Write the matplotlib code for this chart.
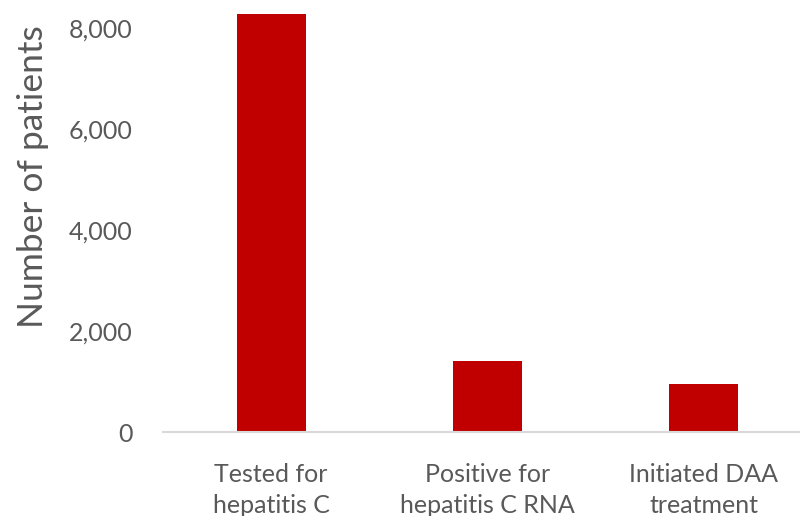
import matplotlib.pyplot as plt
from matplotlib.ticker import FuncFormatter

categories = ["Tested for\nhepatitis C", "Positive for\nhepatitis C RNA", "Initiated DAA\ntreatment"]
patients = [8270, 1410, 945]
yticks = [0, 2000, 4000, 6000, 8000]

plt.rcParams["font.family"] = ["Lato", "DejaVu Sans"]
text_color = "#595959"

fig = plt.figure(figsize=(8, 5.16), dpi=100)
# axes runs a bit past the right edge and the top, as in the cropped original
ax = fig.add_axes([163 / 800, 84 / 516, 649 / 800, 454.5 / 516])

ax.bar(range(len(categories)), patients, width=0.32, color="#C00000")

ax.set_xlim(-0.5, 2.5)
ax.set_ylim(0, 9000)
ax.set_yticks(yticks)
ax.yaxis.set_major_formatter(FuncFormatter(lambda v, p: f"{int(v):,}"))
ax.set_xticks(range(len(categories)))
ax.set_xticklabels(categories, linespacing=1.45)

for s in ["top", "right", "left"]:
    ax.spines[s].set_visible(False)
ax.spines["bottom"].set_color("#D9D9D9")
ax.spines["bottom"].set_linewidth(1.5)

ax.tick_params(axis="both", length=0, labelsize=18, colors=text_color)
ax.tick_params(axis="x", pad=22)
ax.tick_params(axis="y", pad=22)

ax.set_ylabel("Number of patients", fontsize=25.5, color=text_color)
ax.yaxis.set_label_coords(-0.175, (432 - 177) / 454.5)

fig.savefig("out.png", dpi=100)
